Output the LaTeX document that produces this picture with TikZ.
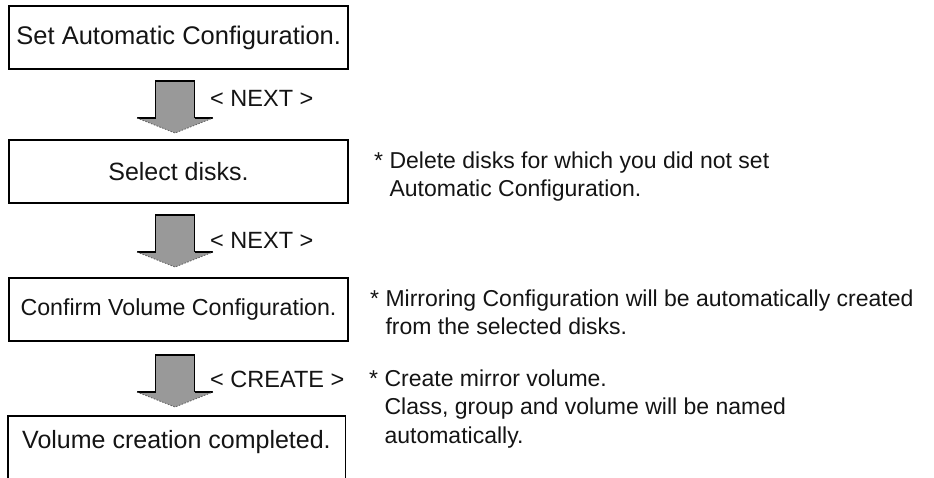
\documentclass[tikz,border=0pt]{standalone}
\usepackage{fontspec}
\setmainfont{Liberation Sans}
\definecolor{arrowgray}{RGB}{153,153,153}
\definecolor{textblack}{RGB}{20,20,20}
\tikzset{
  stepbox/.style={draw=black, line width=1.6pt, rectangle, inner sep=0pt,
    text=textblack, font=\fontsize{25}{30}\selectfont},
  boxtext/.style={inner sep=0pt, text=textblack, font=\fontsize{25}{30}\selectfont},
  btnlabel/.style={inner sep=0pt, anchor=west, text=textblack, font=\fontsize{23.5}{28}\selectfont},
  notetext/.style={inner sep=0pt, anchor=base west, align=left, text=textblack,
    font=\fontsize{23}{28.5}\selectfont},
  pics/downarrow/.style={code={
    \fill[arrowgray] (-19.5,0) rectangle (19.5,37);
    \draw[black, line width=1.2pt] (-19.5,37) -- (-19.5,0) -- (19.5,0) -- (19.5,37);
    \fill[arrowgray] (-38,37) -- (38,37) -- (0,52) -- cycle;
    \draw[black, line width=1.4pt] (-38,37) -- (-19.5,37);
    \draw[black, line width=1.4pt] (19.5,37) -- (38,37);
    \draw[black!60, line width=0.9pt, dash pattern=on 1.5pt off 1.5pt] (-38,37) -- (0,52) -- (38,37);
  }}
}
\begin{document}
\begin{tikzpicture}[x=1pt, y=-1pt]
\useasboundingbox (0,0) rectangle (934,477);
\clip (0,0) rectangle (934,477);
% boxes
\node[stepbox, minimum width=339, minimum height=63, font=\fontsize{25.5}{30}\selectfont] (box1) at (178.75,37.5) {Set Automatic Configuration.};
\node[stepbox, minimum width=339, minimum height=63] (box2) at (178.5,171.5) {Select disks.};
\node[stepbox, minimum width=339, minimum height=63, font=\fontsize{23.2}{28}\selectfont] (box3) at (178.5,309.5) {Confirm Volume Configuration.};
\node[stepbox, minimum width=337.5, minimum height=70] (box4) at (176.75,451) {};
\node[boxtext] (t4) at (176.5,442) {Volume creation completed.};
% arrows
\pic (arr1) at (175,81) {downarrow};
\pic (arr2) at (175,215) {downarrow};
\pic (arr3) at (175,355) {downarrow};
% labels
\node[btnlabel] (l1) at (210,98) {< NEXT >};
\node[btnlabel] (l2) at (210,240) {< NEXT >};
\node[btnlabel] (l3) at (210,379) {< CREATE >};
% notes (anchor: baseline of the last line)
\node[notetext] (n1) at (374,196.5) {* Delete disks for which you did not set\\\phantom{*} Automatic Configuration.};
\node[notetext] (n2) at (370,334.5) {* Mirroring Configuration will be automatically created\\\phantom{*} from the selected disks.};
\node[notetext] (n3) at (369,443) {* Create mirror volume.\\\phantom{*} Class, group and volume will be named\\\phantom{*} automatically.};
\end{tikzpicture}
\end{document}
